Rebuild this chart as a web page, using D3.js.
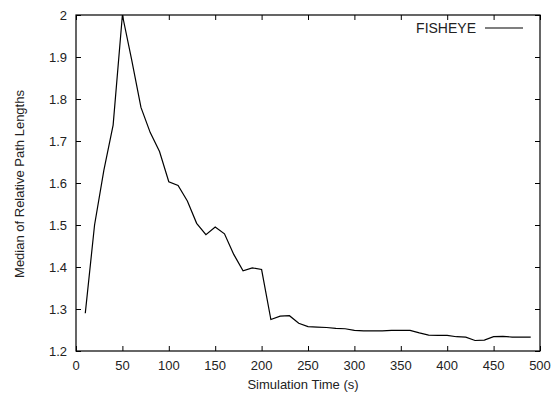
<!DOCTYPE html>
<html>
<head>
<meta charset="utf-8">
<script src="https://cdn.jsdelivr.net/npm/d3@7"></script>
<style>
  body { margin: 0; background: #fff; }
  text { font-family: "Liberation Sans", Arial, sans-serif; fill: #222; }
</style>
</head>
<body>
<div id="chart"></div>
<script>
// simulation time (s)
var times = [10, 20, 30, 40, 50, 60, 70, 80, 90, 100,
             110, 120, 130, 140, 150, 160, 170, 180, 190, 200,
             210, 220, 230, 240, 250, 260, 270, 280, 290, 300,
             310, 320, 330, 340, 350, 360, 370, 380, 390, 400,
             410, 420, 430, 440, 450, 460, 470, 480, 490];
// median of relative path lengths, FISHEYE
var fisheye = [1.29, 1.50, 1.63, 1.738, 2.0, 1.893, 1.78, 1.72, 1.675, 1.603,
               1.594, 1.557, 1.504, 1.477, 1.495, 1.479, 1.43, 1.391, 1.398, 1.394,
               1.275, 1.283, 1.284, 1.266, 1.258, 1.257, 1.256, 1.254, 1.253, 1.249,
               1.248, 1.248, 1.248, 1.249, 1.249, 1.249, 1.243, 1.238, 1.237, 1.237,
               1.234, 1.233, 1.225, 1.226, 1.234, 1.235, 1.233, 1.233, 1.233];
var xTicks = [0, 50, 100, 150, 200, 250, 300, 350, 400, 450, 500];
var yTicks = [1.2, 1.3, 1.4, 1.5, 1.6, 1.7, 1.8, 1.9, 2];

function init() {
    var w = 555, h = 393;
    var left = 76, right = 540, top = 15, bottom = 351;

    var svg = d3.select("#chart").append("svg")
        .attr("width", w)
        .attr("height", h);

    var x = d3.scaleLinear().domain([0, 500]).range([left, right]);
    var y = d3.scaleLinear().domain([1.2, 2]).range([bottom, top]);

    var tick = 5;

    // mirrored ticks drawn inward on all four sides
    svg.append("g")
        .attr("transform", "translate(0," + bottom + ")")
        .call(d3.axisTop(x).tickValues(xTicks).tickSize(tick).tickFormat(""));
    svg.append("g")
        .attr("transform", "translate(0," + top + ")")
        .call(d3.axisBottom(x).tickValues(xTicks).tickSize(tick).tickFormat(""));
    svg.append("g")
        .attr("transform", "translate(" + left + ",0)")
        .call(d3.axisRight(y).tickValues(yTicks).tickSize(tick).tickFormat(""));
    svg.append("g")
        .attr("transform", "translate(" + right + ",0)")
        .call(d3.axisLeft(y).tickValues(yTicks).tickSize(tick).tickFormat(""));
    svg.selectAll(".domain").remove();
    svg.selectAll(".tick line").attr("stroke", "#000");

    // tick labels
    svg.selectAll(".xlab").data(xTicks).enter().append("text")
        .attr("x", function(d) { return x(d); })
        .attr("y", bottom + 19)
        .attr("text-anchor", "middle")
        .style("font-size", "13px")
        .text(function(d) { return d; });
    svg.selectAll(".ylab").data(yTicks).enter().append("text")
        .attr("x", left - 9)
        .attr("y", function(d) { return y(d) + 4.5; })
        .attr("text-anchor", "end")
        .style("font-size", "13px")
        .text(function(d) { return d; });

    // frame
    svg.append("rect")
        .attr("x", left).attr("y", top)
        .attr("width", right - left).attr("height", bottom - top)
        .attr("fill", "none").attr("stroke", "#000").attr("stroke-width", 1.2);

    // axis titles
    svg.append("text")
        .attr("x", 303)
        .attr("y", 389)
        .attr("text-anchor", "middle")
        .style("font-size", "13px")
        .text("Simulation Time (s)");
    svg.append("text")
        .attr("transform", "translate(24,184) rotate(-90)")
        .attr("text-anchor", "middle")
        .style("font-size", "13px")
        .text("Median of Relative Path Lengths");

    // the line
    var line = d3.line()
        .x(function(d, i) { return x(times[i]); })
        .y(function(d) { return y(d); });
    svg.append("path")
        .datum(fisheye)
        .attr("d", line)
        .attr("fill", "none")
        .attr("stroke", "#000")
        .attr("stroke-width", 1.2);

    // legend
    svg.append("text")
        .attr("x", 476)
        .attr("y", 33)
        .attr("text-anchor", "end")
        .style("font-size", "14px")
        .text("FISHEYE");
    svg.append("line")
        .attr("x1", 485).attr("x2", 523)
        .attr("y1", 28).attr("y2", 28)
        .attr("stroke", "#000").attr("stroke-width", 1.2);
}

window.onload = init;
</script>
</body>
</html>
